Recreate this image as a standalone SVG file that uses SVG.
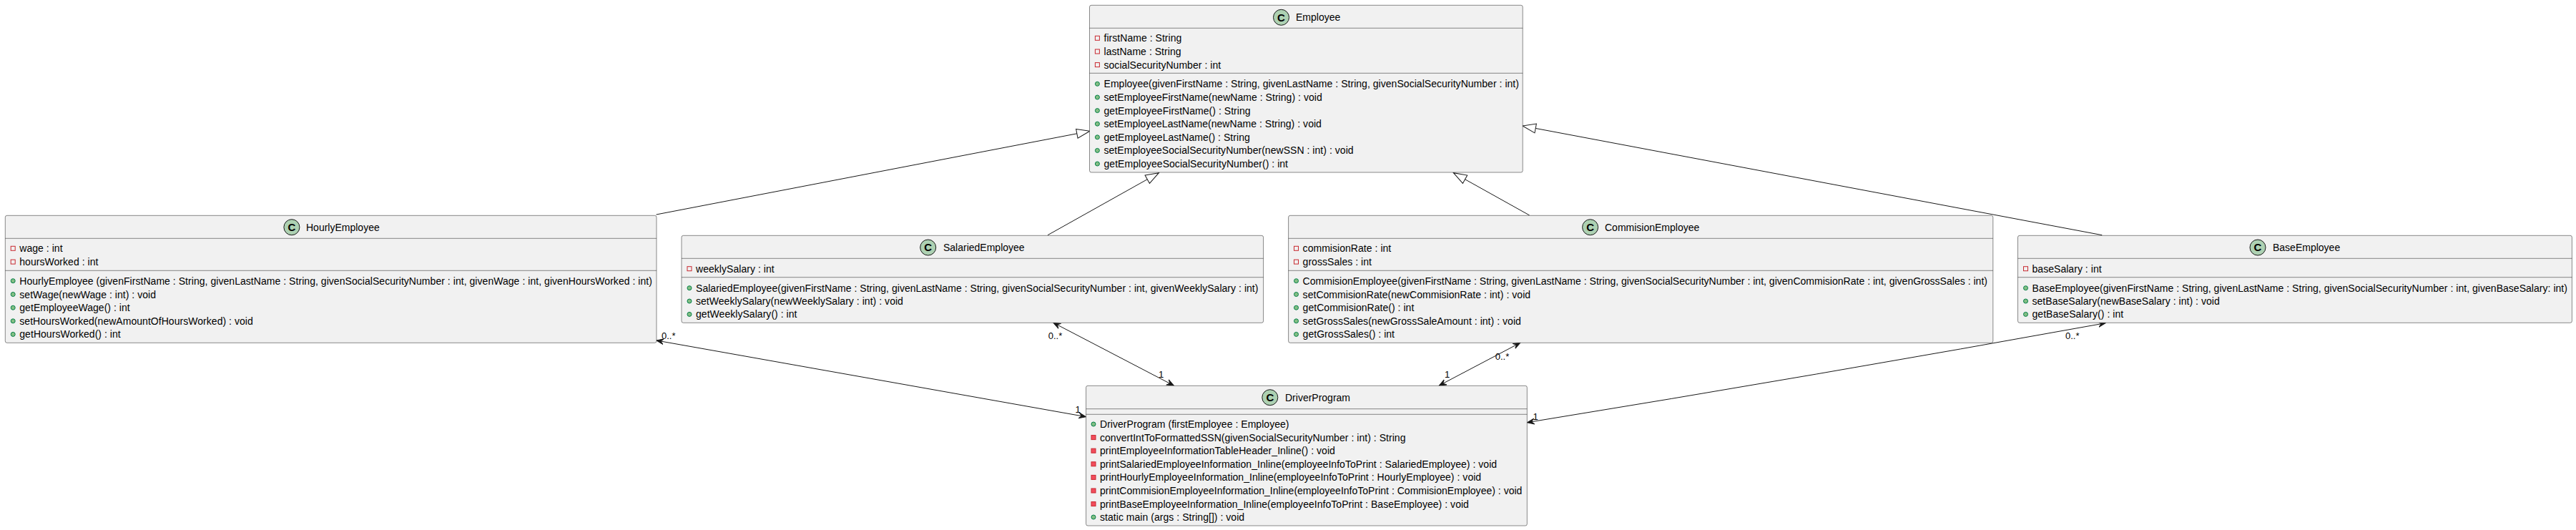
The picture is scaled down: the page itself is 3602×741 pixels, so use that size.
<svg xmlns="http://www.w3.org/2000/svg" width="3602" height="741" viewBox="0 0 3602 741">
<style>
text{font-family:"Liberation Sans",Arial,sans-serif;fill:#000}
.t{font-size:14px}
.m{font-size:14px;letter-spacing:.04px}
.l{font-size:13px}
.c{font-size:15px;font-weight:bold;text-anchor:middle}
.box{fill:#F1F1F1;stroke:#181818;stroke-width:.5}
.sep{stroke:#181818;stroke-width:.5}
.ci{fill:#ADD1B2;stroke:#181818;stroke-width:1}
.pf{fill:none;stroke:#C82930;stroke-width:1}
.pm{fill:#F24D5C;stroke:#C82930;stroke-width:1}
.pu{fill:#84BE84;stroke:#038048;stroke-width:1}
.g{fill:none;stroke:#181818;stroke-width:1;marker-end:url(#tri)}
.a{fill:none;stroke:#181818;stroke-width:1;marker-start:url(#opn);marker-end:url(#opn)}
</style>
<defs>
<marker id="tri" markerUnits="userSpaceOnUse" markerWidth="22" markerHeight="16" refX="20" refY="8" orient="auto"><path d="M1.5,1.5L20,8L1.5,14.5Z" fill="#fff" stroke="#181818" stroke-width="1"/></marker>
<marker id="opn" markerUnits="userSpaceOnUse" markerWidth="12" markerHeight="10" refX="10" refY="5" orient="auto-start-reverse"><path d="M10,5L0,1L4,5L0,9Z" fill="#181818" stroke="#181818" stroke-width="1"/></marker>
</defs>
<g id="connectors">
<path class="g" d="M917.6,300L1524,183.3"/>
<path class="g" d="M1465,328.7L1620.4,241.7"/>
<path class="g" d="M2138.7,301L2032.4,241.7"/>
<path class="g" d="M2939.3,328.7L2129,176"/>
<path class="a" d="M918,476L1518.4,582.7"/>
<path class="a" d="M1473,451.3L1641.3,539"/>
<path class="a" d="M2125.7,479.3L2012.3,539"/>
<path class="a" d="M2944,451.7Q2539,525 2135.4,590.7"/>
<text class="l" x="925" y="474">0..*</text>
<text class="l" x="1503.5" y="577">1</text>
<text class="l" x="1465.7" y="474">0..*</text>
<text class="l" x="1620" y="528">1</text>
<text class="l" x="2090.7" y="503">0..*</text>
<text class="l" x="2020" y="528">1</text>
<text class="l" x="2888" y="474">0..*</text>
<text class="l" x="2143.6" y="587">1</text>
</g>
<g id="Employee">
<rect class="box" x="1523.5" y="7.3" width="605.7" height="233.7" rx="2.5"/>
<path class="sep" d="M1523.5,39.3H2129.2M1523.5,102.3H2129.2"/>
<circle class="ci" cx="1791.5" cy="24.3" r="11"/><text class="c" x="1791.5" y="29.5">C</text>
<text class="t" x="1812" y="29">Employee</text>
<rect class="pf" x="1531.4" y="50.3" width="6" height="6"/><text class="m" x="1543.5" y="58.3">firstName : String</text>
<rect class="pf" x="1531.4" y="69" width="6" height="6"/><text class="m" x="1543.5" y="77">lastName : String</text>
<rect class="pf" x="1531.4" y="87.6" width="6" height="6"/><text class="m" x="1543.5" y="95.6">socialSecurityNumber : int</text>
<circle class="pu" cx="1534.4" cy="117.3" r="3"/><text class="m" x="1543.5" y="122.3" textLength="580.5" lengthAdjust="spacing">Employee(givenFirstName : String, givenLastName : String, givenSocialSecurityNumber : int)</text>
<circle class="pu" cx="1534.4" cy="136" r="3"/><text class="m" x="1543.5" y="141">setEmployeeFirstName(newName : String) : void</text>
<circle class="pu" cx="1534.4" cy="154.6" r="3"/><text class="m" x="1543.5" y="159.6">getEmployeeFirstName() : String</text>
<circle class="pu" cx="1534.4" cy="173.2" r="3"/><text class="m" x="1543.5" y="178.2">setEmployeeLastName(newName : String) : void</text>
<circle class="pu" cx="1534.4" cy="191.8" r="3"/><text class="m" x="1543.5" y="196.8">getEmployeeLastName() : String</text>
<circle class="pu" cx="1534.4" cy="210.4" r="3"/><text class="m" x="1543.5" y="215.4">setEmployeeSocialSecurityNumber(newSSN : int) : void</text>
<circle class="pu" cx="1534.4" cy="229" r="3"/><text class="m" x="1543.5" y="234">getEmployeeSocialSecurityNumber() : int</text>
</g>
<g id="HourlyEmployee">
<rect class="box" x="7.3" y="301.3" width="910.7" height="178" rx="2.5"/>
<path class="sep" d="M7.3,333.3H918M7.3,378.3H918"/>
<circle class="ci" cx="407.9" cy="317.7" r="11"/><text class="c" x="407.9" y="323">C</text>
<text class="t" x="428" y="322.5">HourlyEmployee</text>
<rect class="pf" x="15.2" y="344.3" width="6" height="6"/><text class="m" x="27.3" y="352.3">wage : int</text>
<rect class="pf" x="15.2" y="363.1" width="6" height="6"/><text class="m" x="27.3" y="371.1">hoursWorked : int</text>
<circle class="pu" cx="18.2" cy="392.7" r="3"/><text class="m" x="27.3" y="397.7" textLength="884.7" lengthAdjust="spacing">HourlyEmployee (givenFirstName : String, givenLastName : String, givenSocialSecurityNumber : int, givenWage : int, givenHoursWorked : int)</text>
<circle class="pu" cx="18.2" cy="411.5" r="3"/><text class="m" x="27.3" y="416.5">setWage(newWage : int) : void</text>
<circle class="pu" cx="18.2" cy="430.2" r="3"/><text class="m" x="27.3" y="435.2">getEmployeeWage() : int</text>
<circle class="pu" cx="18.2" cy="448.8" r="3"/><text class="m" x="27.3" y="453.8">setHoursWorked(newAmountOfHoursWorked) : void</text>
<circle class="pu" cx="18.2" cy="467.4" r="3"/><text class="m" x="27.3" y="472.4">getHoursWorked() : int</text>
</g>
<g id="SalariedEmployee">
<rect class="box" x="953" y="329.3" width="813.6" height="122" rx="2.5"/>
<path class="sep" d="M953,361.3H1766.6M953,387.7H1766.6"/>
<circle class="ci" cx="1297.7" cy="346" r="11"/><text class="c" x="1297.7" y="351.3">C</text>
<text class="t" x="1319" y="351">SalariedEmployee</text>
<rect class="pf" x="961" y="372.7" width="6" height="6"/><text class="m" x="973" y="380.7">weeklySalary : int</text>
<circle class="pu" cx="964" cy="402.7" r="3"/><text class="m" x="973" y="407.7" textLength="786.5" lengthAdjust="spacing">SalariedEmployee(givenFirstName : String, givenLastName : String, givenSocialSecurityNumber : int, givenWeeklySalary : int)</text>
<circle class="pu" cx="964" cy="421" r="3"/><text class="m" x="973" y="426">setWeeklySalary(newWeeklySalary : int) : void</text>
<circle class="pu" cx="964" cy="439.4" r="3"/><text class="m" x="973" y="444.4">getWeeklySalary() : int</text>
</g>
<g id="CommisionEmployee">
<rect class="box" x="1801.6" y="301.3" width="985.2" height="178" rx="2.5"/>
<path class="sep" d="M1801.6,333.3H2786.8M1801.6,378.3H2786.8"/>
<circle class="ci" cx="2223.6" cy="317.7" r="11"/><text class="c" x="2223.6" y="323">C</text>
<text class="t" x="2244" y="322.5">CommisionEmployee</text>
<rect class="pf" x="1809.5" y="344.3" width="6" height="6"/><text class="m" x="1821.6" y="352.3">commisionRate : int</text>
<rect class="pf" x="1809.5" y="363.1" width="6" height="6"/><text class="m" x="1821.6" y="371.1">grossSales : int</text>
<circle class="pu" cx="1812.5" cy="392.7" r="3"/><text class="m" x="1821.6" y="397.7" textLength="957.4" lengthAdjust="spacing">CommisionEmployee(givenFirstName : String, givenLastName : String, givenSocialSecurityNumber : int, givenCommisionRate : int, givenGrossSales : int)</text>
<circle class="pu" cx="1812.5" cy="411.5" r="3"/><text class="m" x="1821.6" y="416.5">setCommisionRate(newCommisionRate : int) : void</text>
<circle class="pu" cx="1812.5" cy="430.2" r="3"/><text class="m" x="1821.6" y="435.2">getCommisionRate() : int</text>
<circle class="pu" cx="1812.5" cy="448.8" r="3"/><text class="m" x="1821.6" y="453.8">setGrossSales(newGrossSaleAmount : int) : void</text>
<circle class="pu" cx="1812.5" cy="467.4" r="3"/><text class="m" x="1821.6" y="472.4">getGrossSales() : int</text>
</g>
<g id="BaseEmployee">
<rect class="box" x="2821.5" y="329.3" width="774.9" height="122" rx="2.5"/>
<path class="sep" d="M2821.5,361.3H3596.4M2821.5,387.7H3596.4"/>
<circle class="ci" cx="3157" cy="346" r="11"/><text class="c" x="3157" y="351.3">C</text>
<text class="t" x="3178" y="351">BaseEmployee</text>
<rect class="pf" x="2829.5" y="372.7" width="6" height="6"/><text class="m" x="2841.5" y="380.7">baseSalary : int</text>
<circle class="pu" cx="2832.5" cy="402.7" r="3"/><text class="m" x="2841.5" y="407.7" textLength="748.5" lengthAdjust="spacing">BaseEmployee(givenFirstName : String, givenLastName : String, givenSocialSecurityNumber : int, givenBaseSalary: int)</text>
<circle class="pu" cx="2832.5" cy="421" r="3"/><text class="m" x="2841.5" y="426">setBaseSalary(newBaseSalary : int) : void</text>
<circle class="pu" cx="2832.5" cy="439.4" r="3"/><text class="m" x="2841.5" y="444.4">getBaseSalary() : int</text>
</g>
<g id="DriverProgram">
<rect class="box" x="1518.6" y="539.3" width="616.7" height="195.7" rx="2.5"/>
<path class="sep" d="M1518.6,571.7H2135.3M1518.6,579.3H2135.3"/>
<circle class="ci" cx="1775.8" cy="555.7" r="11"/><text class="c" x="1775.8" y="561">C</text>
<text class="t" x="1797" y="560.7">DriverProgram</text>
<circle class="pu" cx="1529" cy="593" r="3"/><text class="m" x="1538" y="598">DriverProgram (firstEmployee : Employee)</text>
<rect class="pm" x="1526" y="608.6" width="6" height="6"/><text class="m" x="1538" y="616.6">convertIntToFormattedSSN(givenSocialSecurityNumber : int) : String</text>
<rect class="pm" x="1526" y="627.2" width="6" height="6"/><text class="m" x="1538" y="635.2">printEmployeeInformationTableHeader_Inline() : void</text>
<rect class="pm" x="1526" y="645.8" width="6" height="6"/><text class="m" x="1538" y="653.8">printSalariedEmployeeInformation_Inline(employeeInfoToPrint : SalariedEmployee) : void</text>
<rect class="pm" x="1526" y="664.4" width="6" height="6"/><text class="m" x="1538" y="672.4">printHourlyEmployeeInformation_Inline(employeeInfoToPrint : HourlyEmployee) : void</text>
<rect class="pm" x="1526" y="683" width="6" height="6"/><text class="m" x="1538" y="691" textLength="590.4" lengthAdjust="spacing">printCommisionEmployeeInformation_Inline(employeeInfoToPrint : CommisionEmployee) : void</text>
<rect class="pm" x="1526" y="701.6" width="6" height="6"/><text class="m" x="1538" y="709.6">printBaseEmployeeInformation_Inline(employeeInfoToPrint : BaseEmployee) : void</text>
<circle class="pu" cx="1529" cy="723" r="3"/><text class="m" x="1538" y="728">static main (args : String[]) : void</text>
</g>
</svg>
